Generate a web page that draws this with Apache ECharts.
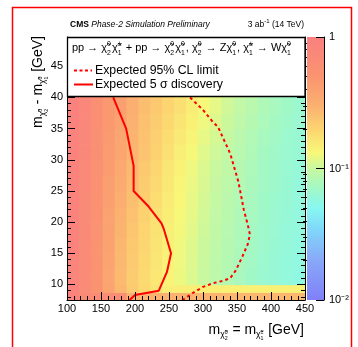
<!DOCTYPE html>
<html>
<head>
<meta charset="utf-8">
<script src="https://cdn.jsdelivr.net/npm/echarts@6/dist/echarts.min.js"></script>
<style>
html,body{margin:0;padding:0;background:#fff;}
#c{width:358px;height:347px;}
</style>
</head>
<body>
<div id="c"></div>
<script>
// Bin edges of the (mass, mass splitting) plane
const massEdges  = [100,117.5,135,152.5,170,187.5,205,222.5,240,257.5,275,292.5,310,327.5,345,362.5,380,397.5,415,432.5,450];
const deltaEdges = [7.5,8.75,10,12.5,15,17.5,20,22.5,25,27.5,30,32.5,35,37.5,40,50];

// z value per bin, one array per Δm row (lowest row first)
const zDm7p5  = [0.90,0.72,0.65,0.64,0.62,0.31,0.30,0.30,0.30,0.30,0.29,0.29,0.29,0.28,0.28,0.28,0.28,0.28,0.28,0.28];
const zDm8p75 = [0.86,0.68,0.51,0.375,0.28,0.225,0.19,0.165,0.148,0.147,0.147,0.146,0.146,0.145,0.145,0.145,0.145,0.145,0.145,0.145];
const zDm10   = [0.85,0.67,0.50,0.37,0.27,0.22,0.185,0.16,0.14,0.124,0.112,0.10,0.090,0.083,0.076,0.070,0.065,0.062,0.059,0.056];
const zDm12p5 = [0.85,0.68,0.50,0.375,0.275,0.225,0.19,0.162,0.141,0.125,0.113,0.101,0.091,0.084,0.077,0.071,0.066,0.062,0.059,0.057];
const zDm15   = [0.86,0.69,0.51,0.38,0.28,0.23,0.195,0.165,0.143,0.126,0.114,0.102,0.092,0.085,0.078,0.072,0.067,0.063,0.060,0.057];
const zDm17p5 = [0.87,0.70,0.52,0.385,0.29,0.238,0.20,0.17,0.146,0.128,0.116,0.104,0.094,0.086,0.079,0.073,0.068,0.064,0.060,0.058];
const zDm20   = [0.88,0.71,0.53,0.39,0.30,0.245,0.205,0.174,0.149,0.13,0.118,0.106,0.095,0.088,0.080,0.074,0.069,0.065,0.061,0.058];
const zDm22p5 = [0.89,0.72,0.54,0.40,0.315,0.255,0.213,0.18,0.153,0.133,0.12,0.108,0.097,0.089,0.082,0.075,0.070,0.066,0.062,0.059];
const zDm25   = [0.90,0.73,0.55,0.41,0.33,0.265,0.22,0.187,0.158,0.137,0.122,0.11,0.099,0.091,0.083,0.077,0.071,0.067,0.063,0.060];
const zDm27p5 = [0.90,0.74,0.56,0.43,0.345,0.275,0.23,0.195,0.163,0.141,0.125,0.112,0.101,0.093,0.085,0.078,0.072,0.068,0.064,0.061];
const zDm30   = [0.91,0.75,0.57,0.44,0.36,0.285,0.24,0.205,0.172,0.148,0.13,0.115,0.104,0.095,0.087,0.080,0.073,0.069,0.065,0.062];
const zDm32p5 = [0.91,0.76,0.58,0.45,0.37,0.29,0.245,0.21,0.18,0.155,0.138,0.12,0.108,0.098,0.089,0.082,0.075,0.071,0.066,0.063];
const zDm35   = [0.92,0.77,0.59,0.46,0.38,0.30,0.25,0.22,0.19,0.165,0.145,0.125,0.113,0.102,0.092,0.085,0.078,0.073,0.068,0.065];
const zDm37p5 = [0.92,0.78,0.60,0.47,0.40,0.31,0.26,0.23,0.20,0.175,0.15,0.13,0.118,0.105,0.095,0.088,0.080,0.075,0.070,0.066];
const zDm40   = [0.92,0.78,0.60,0.47,0.40,0.31,0.26,0.23,0.20,0.175,0.15,0.13,0.118,0.105,0.095,0.088,0.080,0.075,0.070,0.066];
const zRows = [zDm7p5,zDm8p75,zDm10,zDm12p5,zDm15,zDm17p5,zDm20,zDm22p5,zDm25,zDm27p5,zDm30,zDm32p5,zDm35,zDm37p5,zDm40];

// Contours: [mass, Δm]
const limit95 = [[281,40],[300,38],[315,36],[322,35.3],[340,31],[352,26.5],[360,22],[366,19.5],[369,18],[366,16.5],[358,14.5],[348,12.2],[340,11],[330,10.6],[315,10.2],[300,9.6],[286,8.7],[270,7.5]];
const discovery5 = [[168,40],[187,35],[198,29],[198,25],[220,22.5],[239,19.8],[242,19],[253,15],[247,12],[235,9],[200,8.3],[192,7.5]];

// Axis ticks and labels
const xTickLabels = [100,150,200,250,300,350,400,450];
const yTickLabels = [10,15,20,25,30,35,40,45];
const zRange = [0.01, 1];
const zTickLabels = {'0':'1','-1':'10⁻¹','-2':'10⁻²'};

const FONT = '"Liberation Sans", Arial, sans-serif';
const paletteStops = [
  [0.00,'#8080f8'],[0.15,'#88a8f8'],[0.27,'#80d8fa'],[0.35,'#88f8f0'],[0.42,'#a0f8c8'],
  [0.50,'#c8f8a0'],[0.56,'#f8f878'],[0.65,'#fcd470'],[0.74,'#fbb070'],[0.85,'#fa9470'],[1.00,'#fa8080']
];
const zLogMin = Math.log10(zRange[0]), zLogMax = Math.log10(zRange[1]);

function rgb(h){ return [parseInt(h.slice(1,3),16),parseInt(h.slice(3,5),16),parseInt(h.slice(5,7),16)]; }
function paletteColor(v){
  let t = (Math.log10(v) - zLogMin) / (zLogMax - zLogMin);
  t = Math.max(0, Math.min(1, t));
  for (let i = 1; i < paletteStops.length; i++) {
    const [t0,c0] = paletteStops[i-1], [t1,c1] = paletteStops[i];
    if (t <= t1) {
      const f = (t - t0) / (t1 - t0), a = rgb(c0), b = rgb(c1);
      return 'rgb(' + a.map((x,k)=>Math.round(x + (b[k]-x)*f)).join(',') + ')';
    }
  }
  return paletteStops[paletteStops.length-1][1];
}

const cells = [];
zRows.forEach((row, j) => row.forEach((v, i) => {
  cells.push([massEdges[i], massEdges[i+1], deltaEdges[j], deltaEdges[j+1], v]);
}));

// Text made of runs with sub/superscripts
const mctx = document.createElement('canvas').getContext('2d');
function chi(sub, sup, s){
  return [{t:'χ̃', s:s}, {t:sub, s:s*0.62, dy:s*0.3, adv:false}, {t:sup, s:s*0.62, dy:-s*0.45}, {t:'', s:s, gap:s*0.1}];
}
function runs(list, opts){
  let x = 0; const kids = [];
  const z = opts.z || 30;
  list.forEach(r => {
    const st = r.it ? 'italic' : 'normal', wt = r.b ? 'bold' : 'normal';
    mctx.font = st + ' ' + wt + ' ' + r.s + 'px ' + FONT;
    const w = mctx.measureText(r.t).width;
    if (r.t) kids.push({type:'text', x:x, y:(r.dy||0) - 0.3*r.s, z:z,
      style:{text:r.t, fontSize:r.s, fontFamily:FONT, fontStyle:st, fontWeight:wt, fill:'#000', align:'left', verticalAlign:'middle'}});
    if (r.adv !== false) x += w + (r.gap||0);
  });
  const shift = opts.align === 'right' ? -x : 0;
  kids.forEach(k => { k.x += shift; });
  return {type:'group', x:opts.x, y:opts.y, rotation:opts.rotation||0, z:z, children:kids};
}
function sub(list, dy){ return list.map(r => Object.assign({}, r, {dy:(r.dy||0)+dy})); }

const LS = 11;
const legendLine = [].concat(
  [{t:'pp → ', s:LS}], chi('2','0',LS), chi('1','±',LS),
  [{t:' + pp → ', s:LS}], chi('2','0',LS), chi('1','0',LS),
  [{t:', ', s:LS}], chi('2','0',LS), [{t:' → Z', s:LS}], chi('1','0',LS),
  [{t:', ', s:LS}], chi('1','±',LS), [{t:' → W', s:LS}], chi('1','0',LS)
);
const yTitle = [].concat([{t:'m', s:14}], sub(chi('2','0',8.5),3.5), [{t:' - m', s:14}], sub(chi('1','0',8.5),3.5), [{t:' [GeV]', s:14}]);
const xTitle = [].concat([{t:'m', s:14}], sub(chi('2','0',8.5),3.5), [{t:' = m', s:14}], sub(chi('1','±',8.5),3.5), [{t:' [GeV]', s:14}]);

const yMinor = [], zMinor = [];
for (let v = 8; v < 50; v++) if (v % 5) yMinor.push(v);
[-2,-1].forEach(e => { for (let k = 2; k <= 9; k++) zMinor.push(e + Math.log10(k)); });

const black = {color:'#000', width:1};
const labelStyle = {fontSize:11, color:'#000', fontFamily:FONT};

const chart = echarts.init(document.getElementById('c'));
chart.setOption({
  animation:false,
  backgroundColor:'#fff',
  grid:[
    {left:67, top:37, width:238, height:263},
    {left:307, top:37, width:17, height:263}
  ],
  xAxis:[
    {gridIndex:0, type:'value', min:100, max:450, interval:50, z:10,
     axisLine:{show:true, onZero:false, lineStyle:black}, splitLine:{show:false},
     axisTick:{inside:true, length:8, lineStyle:black},
     minorTick:{show:true, splitNumber:5, length:4, lineStyle:black},
     axisLabel:Object.assign({margin:3, customValues:xTickLabels}, labelStyle)},
    {gridIndex:1, type:'value', min:0, max:1, show:false}
  ],
  yAxis:[
    {gridIndex:0, type:'value', min:7.5, max:49.7, position:'left', z:10,
     axisLine:{show:true, onZero:false, lineStyle:black}, splitLine:{show:false},
     axisTick:{inside:true, length:8, lineStyle:black, customValues:yTickLabels},
     axisLabel:Object.assign({margin:4, customValues:yTickLabels}, labelStyle)},
    {gridIndex:0, type:'value', min:7.5, max:49.7, position:'left', z:10,
     axisLine:{show:false}, splitLine:{show:false}, axisLabel:{show:false},
     axisTick:{inside:true, length:4, lineStyle:black, customValues:yMinor}},
    {gridIndex:0, type:'value', min:7.5, max:49.7, position:'right', z:10,
     axisLine:{show:true, onZero:false, lineStyle:black}, splitLine:{show:false}, axisLabel:{show:false},
     axisTick:{inside:true, length:8, lineStyle:black, customValues:yTickLabels}},
    {gridIndex:0, type:'value', min:7.5, max:49.7, position:'right', z:10,
     axisLine:{show:false}, splitLine:{show:false}, axisLabel:{show:false},
     axisTick:{inside:true, length:4, lineStyle:black, customValues:yMinor}},
    {gridIndex:1, type:'value', min:zLogMin, max:zLogMax, position:'right', z:10,
     axisLine:{show:true, onZero:false, lineStyle:black}, splitLine:{show:false},
     axisTick:{inside:true, length:8, lineStyle:black, customValues:[-2,-1,0]},
     axisLabel:Object.assign({margin:5, customValues:[-2,-1,0], formatter:v => zTickLabels[String(Math.round(v))]}, labelStyle)},
    {gridIndex:1, type:'value', min:zLogMin, max:zLogMax, position:'right', z:10,
     axisLine:{show:false}, splitLine:{show:false}, axisLabel:{show:false},
     axisTick:{inside:true, length:4, lineStyle:black, customValues:zMinor}}
  ],
  series:[
    {type:'custom', xAxisIndex:0, yAxisIndex:0, data:cells, encode:{x:[0,1], y:[2,3]}, clip:true, z:1, silent:true,
     renderItem:(params, api) => {
       const a = api.coord([api.value(0), api.value(3)]);
       const b = api.coord([api.value(1), api.value(2)]);
       return {type:'rect', shape:{x:a[0], y:a[1], width:b[0]-a[0]+0.7, height:b[1]-a[1]+0.7},
               style:{fill:paletteColor(api.value(4))}};
     }},
    {type:'line', xAxisIndex:0, yAxisIndex:0, data:limit95, showSymbol:false, z:3, silent:true,
     lineStyle:{color:'#ff0000', width:2, type:[3,3]}},
    {type:'line', xAxisIndex:0, yAxisIndex:0, data:discovery5, showSymbol:false, z:3, silent:true,
     lineStyle:{color:'#ff0000', width:2}},
    {type:'custom', xAxisIndex:1, yAxisIndex:4, data:[[0, 1, zLogMin, zLogMax]], encode:{x:[0,1], y:[2,3]}, z:1, silent:true,
     renderItem:(params, api) => {
       const a = api.coord([api.value(0), api.value(3)]);
       const b = api.coord([api.value(1), api.value(2)]);
       return {type:'rect', shape:{x:a[0], y:a[1], width:b[0]-a[0], height:b[1]-a[1]},
               style:{fill:{type:'linear', x:0, y:1, x2:0, y2:0,
                 colorStops:paletteStops.map(s => ({offset:s[0], color:s[1]}))}}};
     }}
  ],
  graphic:{elements:[
    {type:'rect', shape:{x:12.5, y:7.5, width:339, height:400}, style:{fill:null, stroke:'#ff0000', lineWidth:1.5}, z:40, silent:true},
    runs([{t:'CMS', s:8.5, b:true}, {t:' ', s:8.5}, {t:'Phase-2 Simulation Preliminary', s:8.5, it:true}], {x:70, y:27}),
    runs([{t:'3 ab', s:8.5}, {t:'-1', s:6, dy:-3.5}, {t:' (14 TeV)', s:8.5}], {x:304, y:27, align:'right'}),
    {type:'rect', shape:{x:67.5, y:37.5, width:237.5, height:59}, style:{fill:'#fff', stroke:'#000', lineWidth:1.3}, z:25, silent:true},
    runs(legendLine, {x:72, y:51.5}),
    {type:'line', shape:{x1:74, y1:70.5, x2:92, y2:70.5}, style:{stroke:'#ff0000', lineWidth:2, lineDash:[3,2.5]}, z:30},
    {type:'text', x:95, y:70.5, style:{text:'Expected 95% CL limit', fontSize:12.3, fontFamily:FONT, fill:'#000', verticalAlign:'middle'}, z:30},
    {type:'line', shape:{x1:74, y1:84.5, x2:93, y2:84.5}, style:{stroke:'#ff0000', lineWidth:2}, z:30},
    {type:'text', x:95, y:84.5, style:{text:'Expected 5 σ discovery', fontSize:12.3, fontFamily:FONT, fill:'#000', verticalAlign:'middle'}, z:30},
    runs(yTitle, {x:42, y:36, align:'right', rotation:Math.PI/2}),
    runs(xTitle, {x:304, y:334, align:'right'})
  ]}
});
</script>
</body>
</html>
